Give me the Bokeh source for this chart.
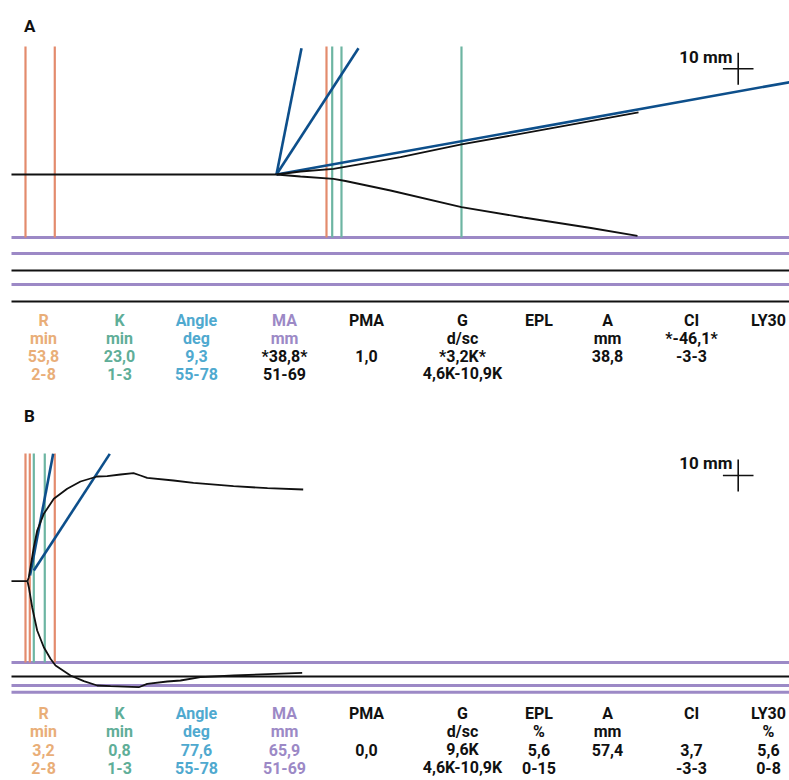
from bokeh.plotting import figure
from bokeh.layouts import column
from bokeh.models import Range1d, ColumnDataSource
from bokeh.core.properties import value
from bokeh.embed import file_html
from bokeh.resources import INLINE

# ---------------- data (time in minutes, amplitude in mm) ----------------
# Panel A
a_base_t = [-0.9, 53.93]
a_base_amp = [0.0, 0.0]
a_upper_t = [53.93, 58.90, 65.73, 79.59, 92.21, 110.63, 128.84]
a_upper_amp = [0.0, 0.94, 1.78, 5.41, 9.38, 14.38, 19.38]
a_lower_t = [53.93, 58.90, 65.73, 68.21, 77.52, 92.21, 105.04, 119.00, 128.63]
a_lower_amp = [0.0, -0.63, -1.34, -2.03, -5.00, -10.22, -13.44, -16.72, -19.16]
a_tan_t0 = [53.93, 53.93, 53.93]
a_tan_a0 = [0.0, 0.0, 0.0]
a_tan_t1 = [59.11, 70.90, 162.0]
a_tan_a1 = [39.47, 39.47, 29.36]
a_r_marks = [2.00, 8.06, 64.28]
a_k_marks = [65.46, 67.38, 92.21]

# Panel B
b_base_t = [-0.9, 2.41]
b_base_amp = [0.0, 0.0]
b_upper_t = [2.41, 2.69, 3.04, 3.72, 4.42, 5.79, 7.86, 10.63, 13.38, 16.84, 18.91,
             21.66, 24.35, 25.79, 27.18, 32.62, 36.76, 45.04, 52.07, 59.46]
b_upper_amp = [0.0, 1.25, 4.38, 10.63, 15.84, 21.06, 25.75, 28.88, 31.16, 32.72, 32.81,
               33.34, 33.75, 33.03, 32.31, 31.47, 30.75, 29.69, 29.06, 28.66]
b_lower_t = [2.41, 2.69, 3.38, 4.42, 5.79, 7.17, 8.21, 11.31, 14.07, 16.84, 19.59,
             25.44, 27.18, 31.32, 34.07, 38.21, 45.11, 59.25]
b_lower_amp = [0.0, -1.88, -8.13, -15.41, -20.63, -24.25, -26.34, -29.47, -31.25, -32.59, -32.81,
               -33.13, -32.06, -31.34, -31.03, -30.00, -29.47, -28.63]
b_tan_t0 = [2.93, 3.72]
b_tan_a0 = [1.78, 3.34]
b_tan_t1 = [7.73, 19.44]
b_tan_a1 = [39.8, 39.8]
b_r_marks = [2.00, 2.89, 8.06]
b_k_marks = [3.72, 5.99]

# Table
params = ["R", "K", "Angle", "MA", "PMA", "G", "EPL", "A", "CI", "LY30"]
a_units = ["min", "min", "deg", "mm", "", "d/sc", "", "mm", "*-46,1*", ""]
a_values = ["53,8", "23,0", "9,3", "*38,8*", "1,0", "*3,2K*", "", "38,8", "-3-3", ""]
a_ranges = ["2-8", "1-3", "55-78", "51-69", "", "4,6K-10,9K", "", "", "", ""]
b_units = ["min", "min", "deg", "mm", "", "d/sc", "%", "mm", "", "%"]
b_values = ["3,2", "0,8", "77,6", "65,9", "0,0", "9,6K", "5,6", "57,4", "3,7", "5,6"]
b_ranges = ["2-8", "1-3", "55-78", "51-69", "", "4,6K-10,9K", "0-15", "", "-3-3", "0-8"]

# ---------------- styles / layout ----------------
ORANGE_LINE = "#E38B6D"
GREEN_LINE = "#6DB5A2"
BLUE_LINE = "#0D4F8B"
PURPLE = "#9C89C6"
C_R = "#E9AE78"
C_K = "#5FAE98"
C_ANG = "#4FA9CF"
C_MA = "#9C89C6"
BLACK = "#111111"
FONT = value("Roboto")

W, H = 789, 390
X0, KX, KY = 15.33, 4.833, 3.2   # page px of t=0, px per minute, px per mm


def tx(px):
    return (px - X0) / KX


def ay(py, base):
    return (base - py) / KY


col_x = [43, 119, 196, 284, 366, 462, 538.5, 607, 691, 768]
base_colors = [C_R, C_K, C_ANG, C_MA] + [BLACK] * 6


def make_panel(top, base, label, upper, lower, base_line, tans, r_marks, k_marks,
               mark_top, mark_bot, purple_y, black_y, rows, row_colors, row_base):
    p = figure(width=W, height=H, output_backend="svg", toolbar_location=None,
               x_range=Range1d(tx(0), tx(W)),
               y_range=Range1d(ay(top + H, base), ay(top, base)),
               min_border=0)
    p.axis.visible = False
    p.grid.visible = False
    p.outline_line_color = None
    x_left, x_right = tx(11), tx(800)
    # table rules
    for yy in purple_y:
        a = ay(yy, base)
        p.line([x_left, x_right], [a, a], line_color=PURPLE, line_width=3)
    for yy in black_y:
        a = ay(yy, base)
        p.line([x_left, x_right], [a, a], line_color=BLACK, line_width=2)
    # marker lines
    yt, yb = ay(mark_top, base), ay(mark_bot, base)
    p.segment(x0=r_marks, y0=[yb] * len(r_marks), x1=r_marks, y1=[yt] * len(r_marks),
              line_color=ORANGE_LINE, line_width=2.2)
    p.segment(x0=k_marks, y0=[yb] * len(k_marks), x1=k_marks, y1=[yt] * len(k_marks),
              line_color=GREEN_LINE, line_width=2.2)
    # tangents
    p.segment(x0=tans[0], y0=tans[1], x1=tans[2], y1=tans[3], line_color=BLUE_LINE, line_width=2.6)
    # trace
    p.line(base_line[0], base_line[1], line_color=BLACK, line_width=1.8)
    p.line(upper[0], upper[1], line_color=BLACK, line_width=1.8)
    p.line(lower[0], lower[1], line_color=BLACK, line_width=1.8)
    # panel label
    p.text(x=[tx(23.5)], y=[ay(top + 25, base)], text=[label], text_font=FONT,
           text_font_size="17px", text_font_style="bold", text_color=BLACK,
           text_align="left", text_baseline="alphabetic")
    # table text
    xs, ys, ts, cs = [], [], [], []
    for row, cols, yb_ in zip(rows, row_colors, row_base):
        for i, t in enumerate(row):
            if t:
                xs.append(tx(col_x[i]))
                ys.append(ay(yb_, base))
                ts.append(t)
                cs.append(cols[i])
    src = ColumnDataSource(dict(x=xs, y=ys, text=ts, color=cs))
    p.text(x="x", y="y", text="text", text_color="color", source=src, text_font=FONT,
           text_font_size="16px", text_font_style="bold", text_align="center",
           text_baseline="alphabetic")
    return p


def add_cross(p, base, cy_px, txt_base_px):
    c_t = tx(737.7)
    c_a = ay(cy_px, base)
    half_mm = 5.0
    half_t = 15.3 / KX
    p.segment(x0=[c_t, c_t - half_t], y0=[c_a - half_mm, c_a], x1=[c_t, c_t + half_t],
              y1=[c_a + half_mm, c_a], line_color=BLACK, line_width=1.6)
    p.text(x=[tx(732)], y=[ay(txt_base_px, base)], text=["10 mm"], text_font=FONT,
           text_font_size="17px", text_font_style="bold", text_color=BLACK,
           text_align="right", text_baseline="alphabetic")


a_row_colors = [base_colors,
                base_colors,
                [C_R, C_K, C_ANG, BLACK] + [BLACK] * 6,
                [C_R, C_K, C_ANG, BLACK] + [BLACK] * 6]
b_row_colors = [base_colors, base_colors, base_colors, base_colors]

pA = make_panel(0, 174.0, "A", (a_upper_t, a_upper_amp), (a_lower_t, a_lower_amp),
                (a_base_t, a_base_amp), (a_tan_t0, a_tan_a0, a_tan_t1, a_tan_a1),
                a_r_marks, a_k_marks, 46, 237,
                [237, 253, 284], [270, 301],
                [params, a_units, a_values, a_ranges], a_row_colors,
                [320, 338, 355.5, 373])
add_cross(pA, 174.0, 68.3, 56)

pB = make_panel(390, 580.7, "B", (b_upper_t, b_upper_amp), (b_lower_t, b_lower_amp),
                (b_base_t, b_base_amp), (b_tan_t0, b_tan_a0, b_tan_t1, b_tan_a1),
                b_r_marks, b_k_marks, 453, 662,
                [662, 685, 691.7], [676],
                [params, b_units, b_values, b_ranges], b_row_colors,
                [713, 731, 749, 767])
add_cross(pB, 580.7, 475, 462)

layout = column(pA, pB, spacing=0)
open("out.html", "w").write(file_html(layout, INLINE))
